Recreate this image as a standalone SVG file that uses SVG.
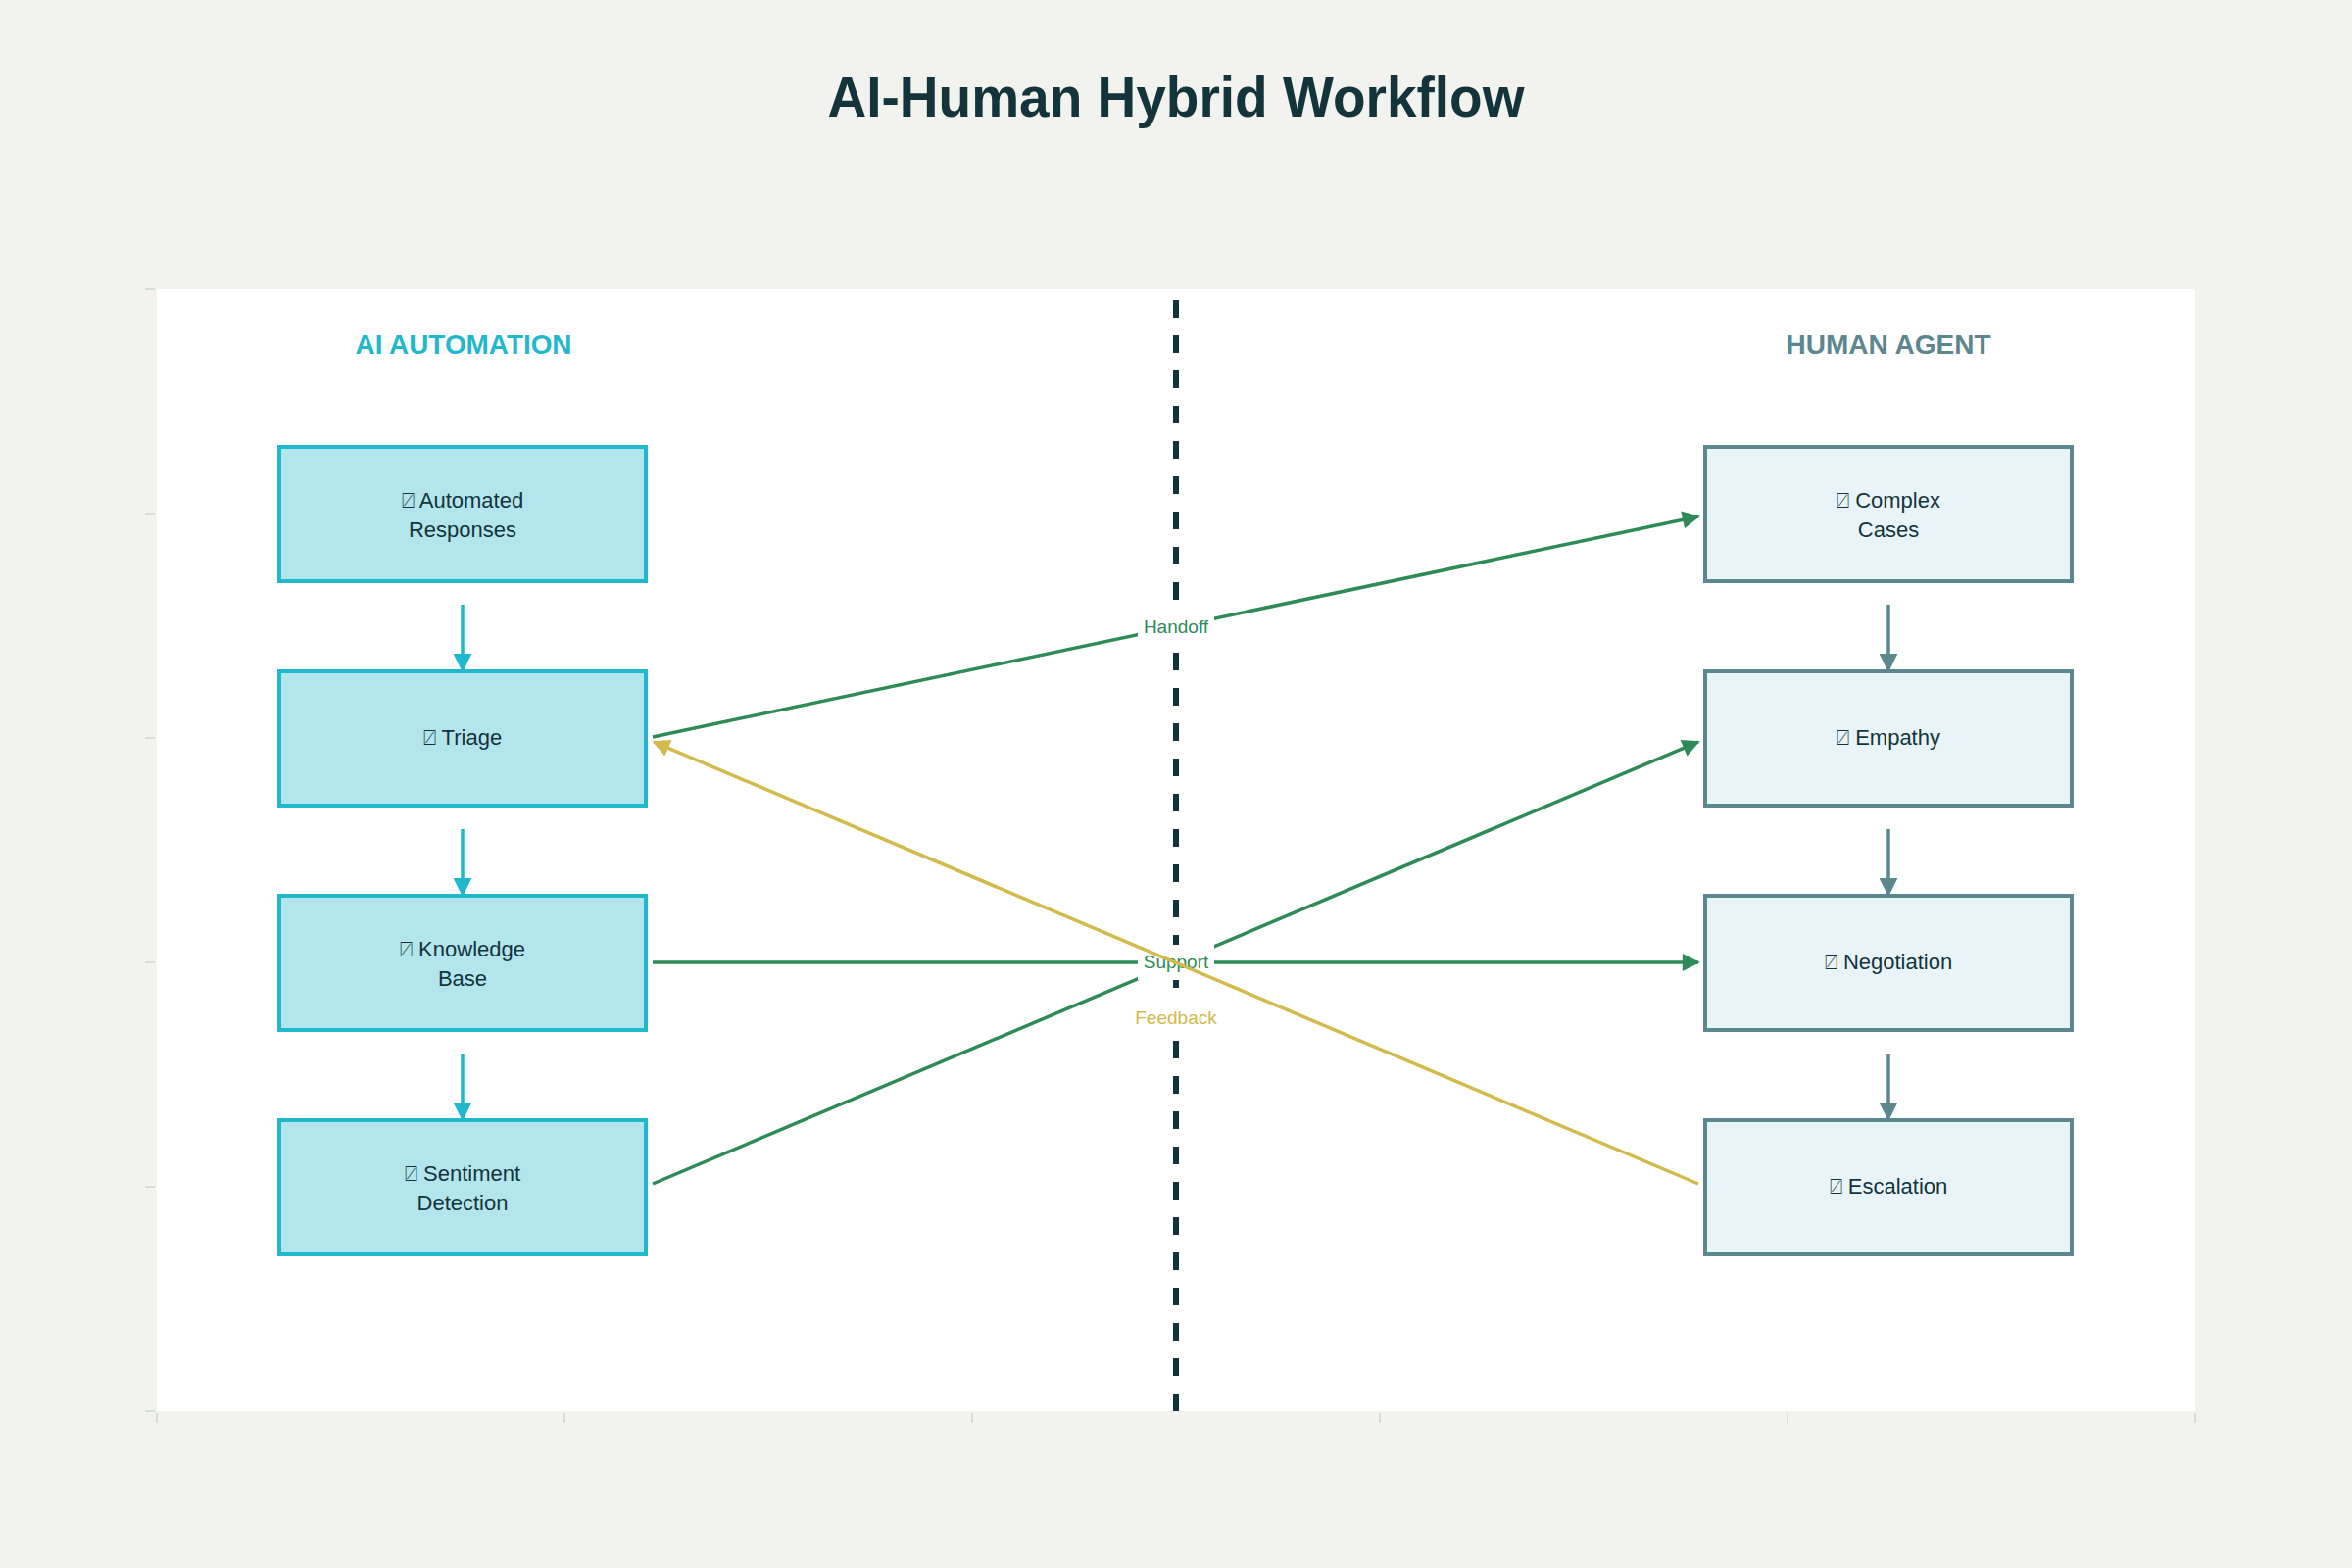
<svg xmlns="http://www.w3.org/2000/svg" width="2400" height="1600" viewBox="0 0 2400 1600">
<style>
  .title{font-family:"Liberation Sans",Arial,sans-serif;font-weight:bold;font-size:58px;fill:#13343B}
  .sec{font-family:"Liberation Sans",Arial,sans-serif;font-weight:bold;font-size:28px}
  .aiNode rect{fill:#B3E5EC;stroke:#1FB8CD;stroke-width:4}
  .huNode rect{fill:#E8F4F8;stroke:#5D878F;stroke-width:4}
  .nt{font-family:"Liberation Sans","DejaVu Sans",sans-serif;font-size:22px;fill:#13343B;text-anchor:middle}
  .lbl{font-family:"Liberation Sans",Arial,sans-serif;font-size:19px;text-anchor:middle}
  .tick{stroke:#C8D8CE;stroke-width:1.5}
  .g{stroke:#2E8B57;stroke-width:3.5;fill:none}
  .y{stroke:#D2BA4C;stroke-width:3.5;fill:none}
  .va{stroke:#1FB8CD;stroke-width:3.5}
  .vh{stroke:#5D878F;stroke-width:3.5}
</style>
<defs>
  <marker id="mG" viewBox="0 0 10 10" refX="9" refY="5" markerUnits="userSpaceOnUse" markerWidth="20" markerHeight="18" orient="auto"><path d="M0,0 L10,5 L0,10 z" fill="#2E8B57"/></marker>
  <marker id="mY" viewBox="0 0 10 10" refX="9" refY="5" markerUnits="userSpaceOnUse" markerWidth="20" markerHeight="18" orient="auto"><path d="M0,0 L10,5 L0,10 z" fill="#D2BA4C"/></marker>
  <marker id="mA" viewBox="0 0 10 10" refX="9" refY="5" markerUnits="userSpaceOnUse" markerWidth="19" markerHeight="19" orient="auto"><path d="M0,0 L10,5 L0,10 z" fill="#1FB8CD"/></marker>
  <marker id="mH" viewBox="0 0 10 10" refX="9" refY="5" markerUnits="userSpaceOnUse" markerWidth="19" markerHeight="19" orient="auto"><path d="M0,0 L10,5 L0,10 z" fill="#5D878F"/></marker>
</defs>
<rect x="0" y="0" width="2400" height="1600" fill="#F2F3EE"/>
<rect x="160" y="295" width="2080" height="1145" fill="#FFFFFF"/>
<g id="ticks">
  <line class="tick" x1="148" y1="295" x2="158" y2="295"/>
  <line class="tick" x1="148" y1="524" x2="158" y2="524"/>
  <line class="tick" x1="148" y1="753" x2="158" y2="753"/>
  <line class="tick" x1="148" y1="982" x2="158" y2="982"/>
  <line class="tick" x1="148" y1="1211" x2="158" y2="1211"/>
  <line class="tick" x1="148" y1="1440" x2="158" y2="1440"/>
  <line class="tick" x1="160" y1="1442" x2="160" y2="1452"/>
  <line class="tick" x1="576" y1="1442" x2="576" y2="1452"/>
  <line class="tick" x1="992" y1="1442" x2="992" y2="1452"/>
  <line class="tick" x1="1408" y1="1442" x2="1408" y2="1452"/>
  <line class="tick" x1="1824" y1="1442" x2="1824" y2="1452"/>
  <line class="tick" x1="2240" y1="1442" x2="2240" y2="1452"/>
</g>
<text class="title" x="1200" y="119" text-anchor="middle" textLength="711" lengthAdjust="spacingAndGlyphs">AI-Human Hybrid Workflow</text>
<text class="sec" x="473" y="361" text-anchor="middle" fill="#1FB8CD" textLength="221" lengthAdjust="spacingAndGlyphs">AI AUTOMATION</text>
<text class="sec" x="1927" y="361" text-anchor="middle" fill="#5D878F" textLength="209" lengthAdjust="spacingAndGlyphs">HUMAN AGENT</text>
<line id="divider" x1="1200" y1="306" x2="1200" y2="1440" stroke="#13343B" stroke-width="6" stroke-dasharray="18 18"/>
<g id="connectors">
  <line class="va" x1="472" y1="617" x2="472" y2="684" marker-end="url(#mA)"/>
  <line class="va" x1="472" y1="846" x2="472" y2="913" marker-end="url(#mA)"/>
  <line class="va" x1="472" y1="1075" x2="472" y2="1142" marker-end="url(#mA)"/>
  <line class="vh" x1="1927" y1="617" x2="1927" y2="684" marker-end="url(#mH)"/>
  <line class="vh" x1="1927" y1="846" x2="1927" y2="913" marker-end="url(#mH)"/>
  <line class="vh" x1="1927" y1="1075" x2="1927" y2="1142" marker-end="url(#mH)"/>
  <line class="g" x1="666" y1="752" x2="1733" y2="527" marker-end="url(#mG)"/>
  <line class="g" x1="666" y1="982" x2="1733" y2="982" marker-end="url(#mG)"/>
  <line class="g" x1="666" y1="1208" x2="1733" y2="757" marker-end="url(#mG)"/>
  <rect x="1161" y="622" width="78" height="36" fill="#FFFFFF"/>
  <text class="lbl" x="1200" y="646" fill="#2E8B57">Handoff</text>
  <rect x="1161" y="964" width="78" height="36" fill="#FFFFFF"/>
  <text class="lbl" x="1200" y="988" fill="#2E8B57">Support</text>
  <rect x="1157" y="1021" width="86" height="36" fill="#FFFFFF"/>
  <text class="lbl" x="1200" y="1045" fill="#D2BA4C">Feedback</text>
  <line class="y" x1="1733" y1="1208" x2="667" y2="757" marker-end="url(#mY)"/>
</g>
<g id="node-automated" class="aiNode">
  <rect x="285" y="456" width="374" height="137"/>
  <text class="nt" x="472" y="518">⍁ Automated</text>
  <text class="nt" x="472" y="548">Responses</text>
</g>
<g id="node-triage" class="aiNode">
  <rect x="285" y="685" width="374" height="137"/>
  <text class="nt" x="472" y="760">⍁ Triage</text>
</g>
<g id="node-knowledge" class="aiNode">
  <rect x="285" y="914" width="374" height="137"/>
  <text class="nt" x="472" y="976">⍁ Knowledge</text>
  <text class="nt" x="472" y="1006">Base</text>
</g>
<g id="node-sentiment" class="aiNode">
  <rect x="285" y="1143" width="374" height="137"/>
  <text class="nt" x="472" y="1205">⍁ Sentiment</text>
  <text class="nt" x="472" y="1235">Detection</text>
</g>
<g id="node-complex" class="huNode">
  <rect x="1740" y="456" width="374" height="137"/>
  <text class="nt" x="1927" y="518">⍁ Complex</text>
  <text class="nt" x="1927" y="548">Cases</text>
</g>
<g id="node-empathy" class="huNode">
  <rect x="1740" y="685" width="374" height="137"/>
  <text class="nt" x="1927" y="760">⍁ Empathy</text>
</g>
<g id="node-negotiation" class="huNode">
  <rect x="1740" y="914" width="374" height="137"/>
  <text class="nt" x="1927" y="989">⍁ Negotiation</text>
</g>
<g id="node-escalation" class="huNode">
  <rect x="1740" y="1143" width="374" height="137"/>
  <text class="nt" x="1927" y="1218">⍁ Escalation</text>
</g>
</svg>
